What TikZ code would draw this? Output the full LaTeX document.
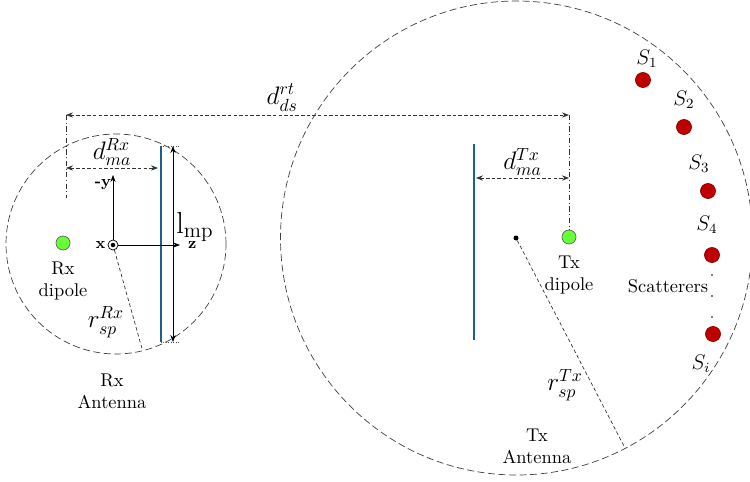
\documentclass[tikz,border=0pt]{standalone}
\usepackage{amsmath,amssymb}
\usepackage{xcolor}
\usepackage{tikz}
\usetikzlibrary{arrows.meta,positioning,calc}

\definecolor{plate_blue}{RGB}{31,95,140}
\definecolor{dipole_green}{RGB}{102,255,51}
\definecolor{scat_red}{RGB}{192,0,0}

\begin{document}
\begin{tikzpicture}[
        >={Stealth[length=4pt,width=3pt]},
        % common looks
        boundary/.style={draw=black!75, thin, dash pattern=on 4pt off 2pt},
        dim_line/.style={<->, draw=black!80, thin, dash pattern=on 2pt off 1.2pt},
        ext_line/.style={draw=black!80, thin, dash pattern=on 3pt off 1.5pt on 0.5pt off 1.5pt},
        radius_line/.style={draw=black!80, thin, dash pattern=on 2pt off 1.5pt},
        plate/.style={draw=plate_blue, line width=1.6pt},
        axis/.style={->, draw=black, thin},
        dipole/.style={circle, draw=black!60, fill=dipole_green, minimum size=0.28cm, inner sep=0pt},
        scatterer/.style={circle, draw=scat_red!70!black, fill=scat_red, minimum size=0.3cm, inner sep=0pt},
        math_lbl/.style={font=\Large, inner sep=1pt},
        s_lbl/.style={font=\large, inner sep=0pt},
        txt_lbl/.style={align=center, font=\fontsize{10.5}{12.5}\selectfont},
        axis_lbl/.style={font=\small\bfseries, inner sep=1pt}
    ]

    % picture frame (750 x 482)
    \useasboundingbox (0,0) rectangle (15,-9.64);

    % ==========================================
    % 1. Rx antenna (small sphere)
    % ==========================================
    \coordinate (rx_c) at (2.32,-4.88);
    \draw[boundary] (rx_c) circle (2.2);

    % --- metal plate and its length ---
    \coordinate (rx_top) at (3.22,-2.92);
    \coordinate (rx_bot) at (3.22,-6.84);
    \draw[plate] (rx_top) -- (rx_bot);
    \coordinate (lmp_top) at (3.46,-2.92);
    \coordinate (lmp_bot) at (3.46,-6.84);
    \draw[densely dotted, black!70] (rx_top) -- ++(0.38,0);
    \draw[densely dotted, black!70] (rx_bot) -- ++(0.38,0);
    \draw[<->, thin] (lmp_top) -- (lmp_bot);
    \node[anchor=base west, inner sep=0pt, font=\LARGE] (lmp_lbl) at (3.52,-4.66) {$\mathrm{l}_{\mathrm{mp}}$};

    % --- coordinate axes ---
    \node[circle, draw, thin, minimum size=0.2cm, inner sep=0pt] (ox) at (2.26,-4.9) {};
    \fill (ox) circle (0.045);
    \coordinate (y_tip) at (2.26,-3.5);
    \coordinate (z_tip) at (3.6,-4.9);
    \draw[axis] (ox.north) -- (y_tip);
    \draw[axis] (ox.east) -- (z_tip);
    \node[axis_lbl, left=0pt of y_tip, yshift=-0.2cm] (y_lbl) {-y};
    \node[axis_lbl, left=0pt of ox] (x_lbl) {x};
    \node[axis_lbl, right=0.12cm of z_tip] (z_lbl) {z};

    % --- Rx dipole ---
    \node[dipole] (rx_dip) at (1.26,-4.86) {};
    \node[txt_lbl, below=0.1cm of rx_dip] (rx_dip_lbl) {Rx\\dipole};

    % --- sphere radius ---
    \coordinate (rx_edge) at ($(rx_c)+(-76:2.2)$);
    \draw[radius_line] (ox) -- (rx_edge);
    \node[math_lbl] (rsp_rx) at (2.12,-6.44) {$r_{sp}^{Rx}$};

    \node[txt_lbl] (rx_ant) at (2.24,-7.82) {Rx\\Antenna};

    % ==========================================
    % 2. Tx antenna (large sphere)
    % ==========================================
    \coordinate (tx_c) at (10.33,-4.76);
    \draw[boundary] (tx_c) ellipse (4.72 and 4.74);

    \coordinate (tx_top) at (9.48,-2.88);
    \coordinate (tx_bot) at (9.48,-6.8);
    \draw[plate] (tx_top) -- (tx_bot);

    \node[dipole] (tx_dip) at (11.38,-4.74) {};
    \node[txt_lbl, below=0.1cm of tx_dip] (tx_dip_lbl) {Tx\\dipole};

    \node[circle, fill=black, minimum size=0.1cm, inner sep=0pt] (tx_ctr) at (10.32,-4.76) {};
    \coordinate (tx_edge) at (12.5,-8.96);
    \draw[radius_line] (tx_ctr) -- (tx_edge);
    \node[math_lbl] (rsp_tx) at (11.3,-7.7) {$r_{sp}^{Tx}$};

    \node[txt_lbl] (tx_ant) at (10.74,-8.92) {Tx\\Antenna};

    % ==========================================
    % 3. distances
    % ==========================================
    \coordinate (ds_left) at (1.32,-2.3);
    \coordinate (ds_right) at (11.38,-2.3);
    \coordinate (rx_ext_end) at (1.32,-3.96);
    \draw[ext_line] (ds_left) -- (rx_ext_end);
    \draw[ext_line] (ds_right) -- (tx_dip.north);

    \draw[dim_line] (ds_left) -- node[pos=0.43, above=1pt, math_lbl] (dds_lbl) {$d_{ds}^{rt}$} (ds_right);

    \coordinate (rx_ma_l) at (1.32,-3.36);
    \draw[dim_line] (rx_ma_l) -- node[midway, above, math_lbl] (dma_rx) {$d_{ma}^{Rx}$} (rx_ma_l -| 3.16,0);

    \coordinate (tx_ma_r) at (11.38,-3.56);
    \draw[dim_line] (tx_ma_r -| 9.52,0) -- node[midway, above, math_lbl] (dma_tx) {$d_{ma}^{Tx}$} (tx_ma_r);

    % ==========================================
    % 4. scatterers
    % ==========================================
    \node[scatterer] (s1) at (12.86,-1.6) {};
    \node[scatterer] (s2) at (13.68,-2.54) {};
    \node[scatterer] (s3) at (14.16,-3.82) {};
    \node[scatterer] (s4) at (14.24,-5.1) {};
    \node[scatterer] (si) at (14.26,-6.68) {};

    \node[s_lbl] (s1_lbl) at (12.94,-1.18) {$S_1$};
    \node[s_lbl] (s2_lbl) at (13.68,-2.0) {$S_2$};
    \node[s_lbl] (s3_lbl) at (13.98,-3.28) {$S_3$};
    \node[s_lbl] (s4_lbl) at (14.14,-4.5) {$S_4$};
    \node[s_lbl] (si_lbl) at (14.02,-7.28) {$S_i$};

    \foreach \yy in {-5.5,-5.92,-6.34}
        \fill (14.24,\yy) circle (0.018);

    \node[txt_lbl] (scat_lbl) at (13.36,-5.72) {Scatterers};

\end{tikzpicture}
\end{document}
